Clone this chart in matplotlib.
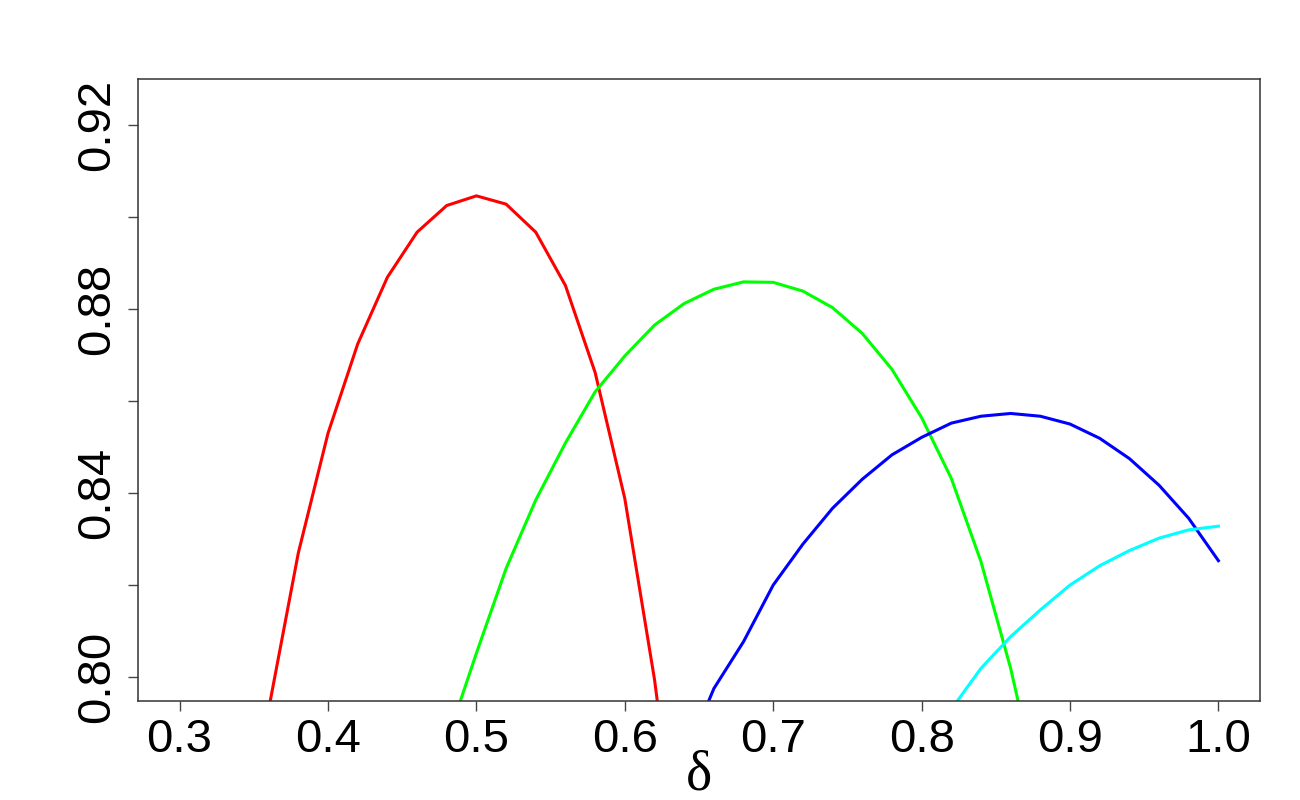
import numpy as np
import matplotlib
matplotlib.use("Agg")
import matplotlib.pyplot as plt

# ========================
# Data
# ========================
delta_red = [0.34, 0.36, 0.38, 0.40, 0.42, 0.44, 0.46, 0.48, 0.50, 0.52,
             0.54, 0.56, 0.58, 0.60, 0.62, 0.64]
red = [0.750, 0.793, 0.827, 0.853, 0.8724, 0.8869, 0.8967, 0.9025, 0.9046, 0.9028,
       0.8967, 0.8851, 0.8662, 0.8388, 0.7995, 0.750]

delta_green = [0.48, 0.50, 0.52, 0.54, 0.56, 0.58, 0.60, 0.62, 0.64, 0.66,
               0.68, 0.70, 0.72, 0.74, 0.76, 0.78, 0.80, 0.82, 0.84, 0.86, 0.88]
green = [0.786, 0.8052, 0.8236, 0.8385, 0.8509, 0.8620, 0.8698, 0.8765, 0.8812, 0.8843,
         0.8859, 0.8858, 0.8839, 0.8803, 0.8747, 0.8669, 0.8564, 0.8432, 0.8251, 0.8019, 0.7735]

delta_blue = [0.64, 0.66, 0.68, 0.70, 0.72, 0.74, 0.76, 0.78, 0.80, 0.82,
              0.84, 0.86, 0.88, 0.90, 0.92, 0.94, 0.96, 0.98, 1.00]
blue = [0.782, 0.7975, 0.8077, 0.8200, 0.8289, 0.8367, 0.8430, 0.8483, 0.8521, 0.8552,
        0.8567, 0.8573, 0.8567, 0.8550, 0.8519, 0.8475, 0.8417, 0.8345, 0.8253]

delta_cyan = [0.82, 0.84, 0.86, 0.88, 0.90, 0.92, 0.94, 0.96, 0.98, 1.00]
cyan = [0.793, 0.8019, 0.8088, 0.8146, 0.8200, 0.8242, 0.8275, 0.8302, 0.8320, 0.8328]

x_ticks = [0.3, 0.4, 0.5, 0.6, 0.7, 0.8, 0.9, 1.0]
y_ticks = [0.80, 0.82, 0.84, 0.86, 0.88, 0.90, 0.92]
y_labels = ["0.80", "", "0.84", "", "0.88", "", "0.92"]

# ========================
# Plot
# ========================
plt.rcParams['font.family'] = ['Liberation Sans', 'DejaVu Sans']

fig = plt.figure(figsize=(13, 8), dpi=100)
ax = fig.add_axes([0.1062, 0.12375, 0.9692 - 0.1062, 0.90125 - 0.12375])

ax.plot(delta_red, red, color="#FF0000", lw=2.2)
ax.plot(delta_green, green, color="#00FF00", lw=2.2)
ax.plot(delta_blue, blue, color="#0000FF", lw=2.2)
ax.plot(delta_cyan, cyan, color="#00FFFF", lw=2.2)

ax.set_xlim(0.272, 1.028)
ax.set_ylim(0.7948, 0.930)

ax.set_xticks(x_ticks)
ax.set_xticklabels([f"{v:.1f}" for v in x_ticks])
ax.set_yticks(y_ticks)
ax.set_yticklabels(y_labels, rotation=90, va="center")

ax.tick_params(axis="both", direction="out", length=7.5, width=1.0,
               color="#444444", labelsize=34, pad=5)
ax.tick_params(axis="y", pad=6)

for s in ax.spines.values():
    s.set_linewidth(1.1)
    s.set_color("#333333")

ax.set_xlabel("δ", fontfamily=["Liberation Serif", "DejaVu Serif"], fontsize=40, labelpad=-9)

fig.savefig("out.png", dpi=100)
